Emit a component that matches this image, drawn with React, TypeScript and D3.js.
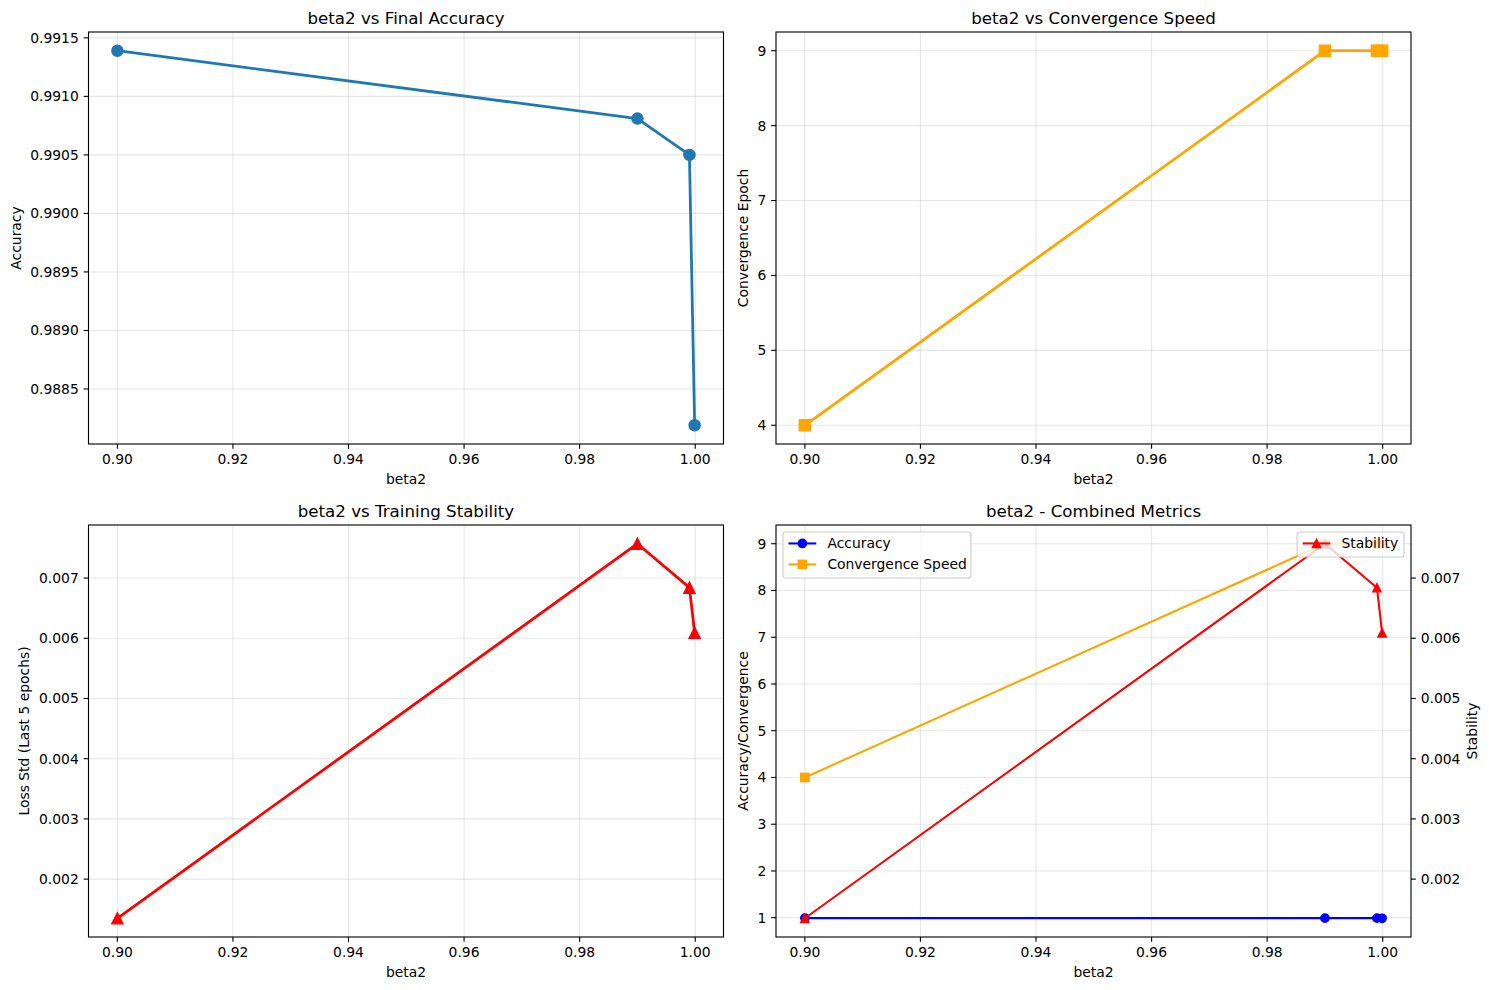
import React from 'react'
import * as d3 from 'd3'

// values
const beta2 = [0.9, 0.99, 0.999, 0.9999]
const finalAccuracy = [0.99139, 0.99081, 0.9905, 0.98819]
const convergenceEpoch = [4, 9, 9, 9]
const lossStd = [0.00135, 0.00757, 0.00684, 0.00609]

const xTicks = [0.9, 0.92, 0.94, 0.96, 0.98, 1.0]
const accTicks = [0.9885, 0.989, 0.9895, 0.99, 0.9905, 0.991, 0.9915]
const epochTicks = [4, 5, 6, 7, 8, 9]
const stdTicks = [0.002, 0.003, 0.004, 0.005, 0.006, 0.007]
const combinedTicks = [1, 2, 3, 4, 5, 6, 7, 8, 9]

const PX = 100 / 72
const FONT = '"DejaVu Sans", sans-serif'
const FS = 10 * PX
const W = 635
const H = 412

type Marker = 'o' | 's' | '^'

interface Series {
  name: string
  values: number[]
  color: string
  marker: Marker
  lw: number
  ms: number
}

interface LegendSpec {
  items: Series[]
  corner: 'left' | 'right'
  width: number
}

function padded(vals: number[]): [number, number] {
  const [a, b] = d3.extent(vals) as [number, number]
  const m = (b - a) * 0.05
  return [a - m, b + m]
}

const MarkerShape = ({ kind, cx, cy, size, color }: { kind: Marker; cx: number; cy: number; size: number; color: string }) => {
  const h = size / 2
  if (kind === 'o') return <circle cx={cx} cy={cy} r={h} fill={color} stroke={color} strokeWidth={PX} />
  if (kind === 's') return <rect x={cx - h} y={cy - h} width={size} height={size} fill={color} stroke={color} strokeWidth={PX} />
  return <path d={`M${cx},${cy - h}L${cx + h},${cy + h}L${cx - h},${cy + h}Z`} fill={color} stroke={color} strokeWidth={PX} />
}

const Line = ({ s, x, y }: { s: Series; x: d3.ScaleLinear<number, number>; y: d3.ScaleLinear<number, number> }) => {
  const pts = beta2.map((b, i) => [x(b), y(s.values[i])] as [number, number])
  const path = d3.line()(pts) || ''
  return (
    <g>
      <path d={path} fill="none" stroke={s.color} strokeWidth={s.lw * PX} strokeLinejoin="round" />
      {pts.map((p, i) => <MarkerShape key={i} kind={s.marker} cx={p[0]} cy={p[1]} size={s.ms * PX} color={s.color} />)}
    </g>
  )
}

// legend box similar to matplotlib's default frame
const Legend = ({ spec }: { spec: LegendSpec }) => {
  const pad = 0.5 * FS
  const bx = spec.corner === 'left' ? pad : W - pad - spec.width
  const by = pad
  const rowStep = 21
  const h = 25 + rowStep * (spec.items.length - 1)
  return (
    <g transform={`translate(${bx},${by})`}>
      <rect x={0} y={0} width={spec.width} height={h} rx={0.2 * FS} fill="white" fillOpacity={0.8} stroke="#cccccc" strokeWidth={PX * 0.8} />
      {spec.items.map((s, i) => {
        const cy = 11.5 + i * rowStep
        const x0 = 0.4 * FS
        const x1 = x0 + 2 * FS
        return (
          <g key={s.name}>
            <line x1={x0} x2={x1} y1={cy} y2={cy} stroke={s.color} strokeWidth={s.lw * PX} />
            <MarkerShape kind={s.marker} cx={(x0 + x1) / 2} cy={cy} size={s.ms * PX} color={s.color} />
            <text x={x1 + 0.8 * FS} y={cy} dy="0.35em" fontSize={FS} fontFamily={FONT}>{s.name}</text>
          </g>
        )
      })}
    </g>
  )
}

interface PanelProps {
  left: number
  top: number
  title: string
  ylabel: string
  ylabelX: number
  yTicks: number[]
  yFmt: string
  series: Series[]
  legend?: LegendSpec
  right?: {
    series: Series[]
    ticks: number[]
    fmt: string
    label: string
    labelX: number
    legend: LegendSpec
  }
}

const Panel = ({ left, top, title, ylabel, ylabelX, yTicks, yFmt, series, legend, right }: PanelProps) => {
  const x = d3.scaleLinear().domain(padded(beta2)).range([0, W])
  const y = d3.scaleLinear().domain(padded(series.flatMap(s => s.values))).range([H, 0])
  const yr = right ? d3.scaleLinear().domain(padded(right.series.flatMap(s => s.values))).range([H, 0]) : null
  const fx = d3.format('.2f')
  const fy = d3.format(yFmt)
  const tick = 3.5 * PX
  const tickPad = tick + 3.5 * PX
  return (
    <g transform={`translate(${left},${top})`} fontFamily={FONT}>
      {/* grid */}
      {xTicks.map(t => <line key={'gx' + t} x1={x(t)} x2={x(t)} y1={0} y2={H} stroke="#b0b0b0" strokeOpacity={0.3} strokeWidth={0.8 * PX} />)}
      {yTicks.map(t => <line key={'gy' + t} x1={0} x2={W} y1={y(t)} y2={y(t)} stroke="#b0b0b0" strokeOpacity={0.3} strokeWidth={0.8 * PX} />)}

      {series.map(s => <Line key={s.name} s={s} x={x} y={y} />)}
      {legend && <Legend spec={legend} />}
      {right && yr && right.series.map(s => <Line key={s.name} s={s} x={x} y={yr} />)}
      {right && <Legend spec={right.legend} />}

      <rect x={0} y={0} width={W} height={H} fill="none" stroke="black" strokeWidth={0.8 * PX} />

      {/* x axis */}
      {xTicks.map(t => (
        <g key={'tx' + t} transform={`translate(${x(t)},${H})`}>
          <line y2={tick} stroke="black" strokeWidth={0.8 * PX} />
          <text y={tickPad} dy="0.76em" textAnchor="middle" fontSize={FS}>{fx(t)}</text>
        </g>
      ))}
      <text x={W / 2} y={H + 40} textAnchor="middle" fontSize={FS}>beta2</text>

      {/* y axis */}
      {yTicks.map(t => (
        <g key={'ty' + t} transform={`translate(0,${y(t)})`}>
          <line x2={-tick} stroke="black" strokeWidth={0.8 * PX} />
          <text x={-tickPad} dy="0.35em" textAnchor="end" fontSize={FS}>{fy(t)}</text>
        </g>
      ))}
      <text transform={`translate(${ylabelX},${H / 2}) rotate(-90)`} dy="0.35em" textAnchor="middle" fontSize={FS}>{ylabel}</text>

      {right && yr && (
        <g>
          {right.ticks.map(t => (
            <g key={'tr' + t} transform={`translate(${W},${yr(t)})`}>
              <line x2={tick} stroke="black" strokeWidth={0.8 * PX} />
              <text x={tickPad} dy="0.35em" textAnchor="start" fontSize={FS}>{d3.format(right.fmt)(t)}</text>
            </g>
          ))}
          <text transform={`translate(${W + right.labelX},${H / 2}) rotate(-90)`} dy="0.35em" textAnchor="middle" fontSize={FS}>{right.label}</text>
        </g>
      )}

      <text x={W / 2} y={-6 * PX} textAnchor="middle" fontSize={12 * PX}>{title}</text>
    </g>
  )
}

export default function App() {
  const accSeries: Series = { name: 'Accuracy', values: finalAccuracy, color: '#1f77b4', marker: 'o', lw: 2, ms: 8 }
  const convSeries: Series = { name: 'Convergence Speed', values: convergenceEpoch, color: '#ffa500', marker: 's', lw: 2, ms: 8 }
  const stabSeries: Series = { name: 'Stability', values: lossStd, color: '#ff0000', marker: '^', lw: 2, ms: 8 }

  const accSmall: Series = { ...accSeries, color: '#0000ff', lw: 1.5, ms: 6 }
  const convSmall: Series = { ...convSeries, lw: 1.5, ms: 6 }
  const stabSmall: Series = { ...stabSeries, lw: 1.5, ms: 6 }

  return (
    <svg width={1489} height={990} style={{ position: 'absolute', left: 0, top: 0, background: 'white' }}>
      <rect width={1489} height={990} fill="white" />
      <Panel left={88.5} top={32} title="beta2 vs Final Accuracy" ylabel="Accuracy" ylabelX={-72.5}
        yTicks={accTicks} yFmt=".4f" series={[accSeries]} />
      <Panel left={776} top={32} title="beta2 vs Convergence Speed" ylabel="Convergence Epoch" ylabelX={-33}
        yTicks={epochTicks} yFmt="d" series={[convSeries]} />
      <Panel left={88.5} top={525} title="beta2 vs Training Stability" ylabel="Loss Std (Last 5 epochs)" ylabelX={-64.5}
        yTicks={stdTicks} yFmt=".3f" series={[stabSeries]} />
      <Panel left={776} top={525} title="beta2 - Combined Metrics" ylabel="Accuracy/Convergence" ylabelX={-33}
        yTicks={combinedTicks} yFmt="d" series={[accSmall, convSmall]}
        legend={{ items: [accSmall, convSmall], corner: 'left', width: 188 }}
        right={{ series: [stabSmall], ticks: stdTicks, fmt: '.3f', label: 'Stability', labelX: 61,
          legend: { items: [stabSmall], corner: 'right', width: 107 } }} />
    </svg>
  )
}
